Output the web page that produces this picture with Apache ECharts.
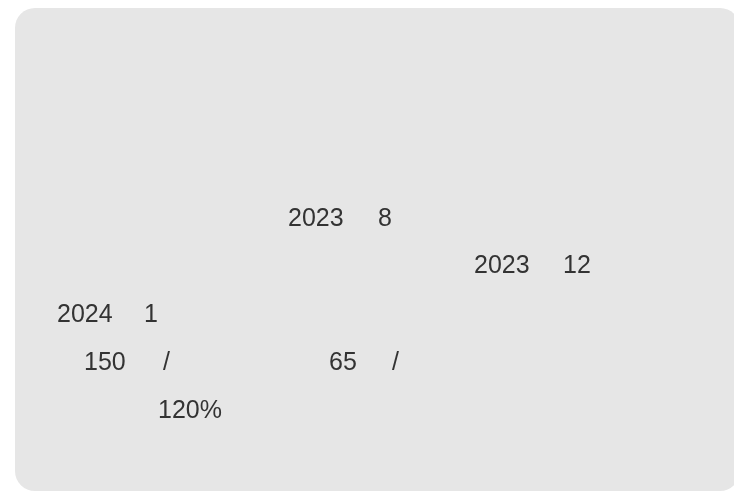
<!DOCTYPE html>
<html>
<head>
<meta charset="utf-8">
<script src="https://cdn.jsdelivr.net/npm/echarts@6/dist/echarts.min.js"></script>
<style>
  html, body { margin: 0; padding: 0; background: #fff; }
  #main { width: 734px; height: 492px; }
</style>
</head>
<body>
<div id="main"></div>
<script>
// values read off the card (the CJK glyphs in the source did not render, so only these show)
const years = [2023, 2023, 2024];
const months = [8, 12, 1];
const prices = [150, 65];
const priceSep = '/';
const rates = ['120%'];

// where each fragment sits on the card: [left, middle]
const yearPos = [[288, 218], [474, 265], [57, 314]];
const monthPos = [[378, 218], [563, 265], [144, 314]];
const pricePos = [[84, 362], [329, 362]];
const sepPos = [[163, 362], [392, 362]];
const ratePos = [[158, 410]];

const textStyle = { fill: '#333', fontSize: 25, fontFamily: 'Liberation Sans, Arial, sans-serif' };

function txt(str, p) {
  return { type: 'text', left: p[0], top: p[1] - 11, style: Object.assign({ text: String(str) }, textStyle) };
}

let elements = [{
  type: 'rect',
  shape: { x: 15, y: 8, width: 725, height: 483, r: 20 },
  style: { fill: '#e6e6e6' }
}];
years.forEach((v, i) => elements.push(txt(v, yearPos[i])));
months.forEach((v, i) => elements.push(txt(v, monthPos[i])));
prices.forEach((v, i) => elements.push(txt(v, pricePos[i])));
pricePos.forEach((p, i) => elements.push(txt(priceSep, sepPos[i])));
rates.forEach((v, i) => elements.push(txt(v, ratePos[i])));

let myChart = echarts.init(document.getElementById('main'));
myChart.setOption({ graphic: { elements: elements } });
</script>
</body>
</html>
